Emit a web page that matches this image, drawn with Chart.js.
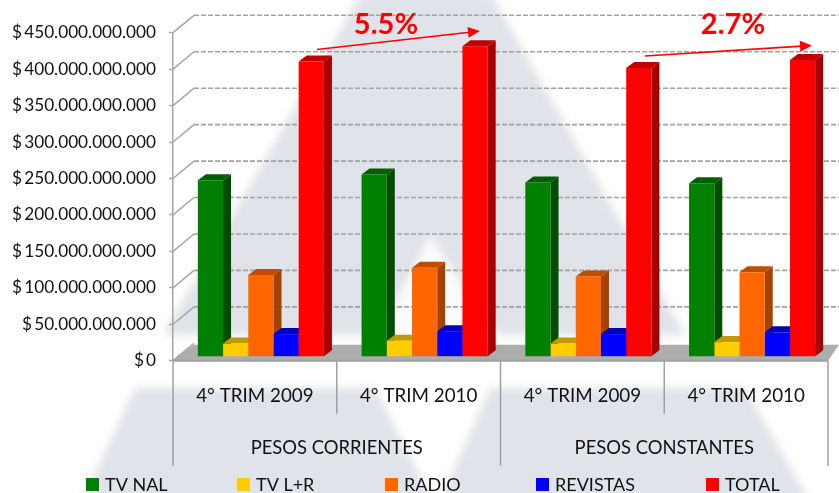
<!DOCTYPE html>
<html><head><meta charset="utf-8">
<style>html,body{margin:0;padding:0;background:#fff}canvas{display:block}</style>
<script src="https://cdn.jsdelivr.net/npm/chart.js@4/dist/chart.umd.min.js"></script>
</head><body>
<div style="width:839px;height:493px"><canvas id="c" width="839" height="493"></canvas></div>
<script>
const categories = ['4° TRIM 2009','4° TRIM 2010','4° TRIM 2009','4° TRIM 2010'];
const groupLabels = ['PESOS CORRIENTES','PESOS CONSTANTES'];
const seriesNames = ['TV NAL','TV L+R','RADIO','REVISTAS','TOTAL'];
const tvNal    = [242e9,250e9,239e9,238e9];
const tvLR     = [18e9,22e9,18e9,20e9];
const radio    = [112e9,122e9,110e9,116e9];
const revistas = [31e9,35e9,31e9,33.5e9];
const total    = [405e9,426e9,396e9,407e9];
const growthLabels = ['5.5%','2.7%'];
const front = ['#008000','#ffcc00','#ff6600','#0000ff','#ff0000'];
const topC  = ['#006000','#c09a00','#bf4d00','#0000c0','#c00000'];
const side  = ['#004d00','#a68500','#a64200','#0000a6','#a60000'];
const values = [tvNal,tvLR,radio,revistas,total];
const legendX = [86,237,385,536,706];
const FONT = 'Lato, "Open Sans", sans-serif';
const DX=21, DY=17.4, BX=6, BY=-4, SX=8, SY=6;

function poly(ctx,pts,fill){ctx.beginPath();pts.forEach((p,i)=>i?ctx.lineTo(p[0],p[1]):ctx.moveTo(p[0],p[1]));ctx.closePath();ctx.fillStyle=fill;ctx.fill();}

const scene = {
  id:'scene',
  beforeDraw(chart){
    const ctx=chart.ctx; ctx.save();
    ctx.fillStyle='#fff'; ctx.fillRect(0,0,839,493);
    ctx.filter='blur(4px)';
    const g='#e0e3e9';
    poly(ctx,[[362,-8],[490,-8],[685,335],[163,335]],g);
    poly(ctx,[[430,235],[375,340],[500,340]],'#fbfbfc');
    poly(ctx,[[135,388],[375,388],[435,505],[80,505]],g);
    poly(ctx,[[490,388],[745,388],[812,505],[438,505]],g);
    ctx.restore();
  },
  beforeDatasetsDraw(chart){
    const ctx=chart.ctx, y=chart.scales.y, a=chart.chartArea;
    ctx.save();
    const p0=y.getPixelForValue(0);
    poly(ctx,[[a.left,p0],[a.left+DX,p0-DY+1.5],[839,p0-DY+1.5],[a.right,p0]],'#adadad');
    y.ticks.forEach(t=>{
      const py=y.getPixelForValue(t.value);
      ctx.strokeStyle='#a6a6a6';ctx.lineWidth=1.5;ctx.setLineDash([]);
      ctx.beginPath();ctx.moveTo(a.left,py);ctx.lineTo(a.left+DX,py-DY);ctx.stroke();
      if(t.value>0){
        ctx.lineWidth=1.6;ctx.strokeStyle='#a3a3a3';ctx.setLineDash([5,2]);
        ctx.beginPath();ctx.moveTo(a.left+DX,py-DY);ctx.lineTo(839,py-DY);ctx.stroke();
      }
    });
    ctx.restore();
    ctx.save();
    ctx.translate(BX,BY);
    // side and top faces, left to right, below the library's front faces
    seriesNames.forEach((_,i)=>{
      chart.getDatasetMeta(i).data.forEach(b=>{
        const r=b.x+b.width/2,l=b.x-b.width/2;
        poly(ctx,[[r,b.y],[r+SX,b.y-SY],[r+SX,b.base-SY],[r,b.base]],side[i]);
        poly(ctx,[[l,b.y],[l+SX,b.y-SY],[r+SX,b.y-SY],[r,b.y]],topC[i]);
      });
    });
  },
  afterDatasetsDraw(chart){
    chart.ctx.restore();
    const ctx=chart.ctx,a=chart.chartArea;
    ctx.save();
    ctx.strokeStyle='#a0a0a0';ctx.lineWidth=1.5;
    const step=(a.right-a.left)/categories.length;
    categories.concat(['']).forEach((_,i)=>{
      const px=a.left+i*step, long=i%2===0;
      ctx.beginPath();ctx.moveTo(px,a.bottom);ctx.lineTo(px,a.bottom+(long?105:53));ctx.stroke();
    });
    ctx.lineWidth=2;ctx.beginPath();ctx.moveTo(a.left,a.bottom);ctx.lineTo(a.right,a.bottom);ctx.stroke();
    ctx.fillStyle='#111';ctx.font='18.4px '+FONT;ctx.textAlign='center';ctx.textBaseline='middle';
    groupLabels.forEach((t,i)=>ctx.fillText(t,a.left+step*(2*i+1),448));
    // legend
    ctx.font='18px '+FONT;ctx.textAlign='left';
    seriesNames.forEach((n,i)=>{
      ctx.fillStyle=front[i];ctx.fillRect(legendX[i],478,13,13);
      ctx.fillStyle='#111';ctx.fillText(n,legendX[i]+19,485);
    });
    // growth annotations
    ctx.textAlign='center';
    ctx.fillStyle='#ff0000';ctx.font='bold 29px '+FONT;
    ctx.fillText(growthLabels[0],386,25);
    ctx.fillText(growthLabels[1],733,25);
    [[317,49.5,480,31],[645,56,812,45.5]].forEach(l=>{
      const ang=Math.atan2(l[3]-l[1],l[2]-l[0]);
      ctx.strokeStyle='#ff0000';ctx.lineWidth=1.6;
      ctx.beginPath();ctx.moveTo(l[0],l[1]);ctx.lineTo(l[2]-6*Math.cos(ang),l[3]-6*Math.sin(ang));ctx.stroke();
      ctx.translate(l[2],l[3]);ctx.rotate(ang);
      poly(ctx,[[0,0],[-12,-5.5],[-12,5.5]],'#ff0000');
      ctx.rotate(-ang);ctx.translate(-l[2],-l[3]);
    });
    ctx.restore();
  }
};

new Chart(document.getElementById('c'),{
  type:'bar',
  data:{labels:categories,datasets:seriesNames.map((n,i)=>({
    label:n,data:values[i],backgroundColor:front[i],clip:false,
    categoryPercentage:0.77,barPercentage:1,borderWidth:0
  }))},
  plugins:[scene],
  options:{
    responsive:false,animation:false,
    layout:{padding:{top:32.7,right:11,left:0,bottom:27.3}},
    plugins:{tooltip:{enabled:false},title:{display:false},legend:{display:false}},
    scales:{
      x:{grid:{display:false},border:{display:false},
         ticks:{color:'#111',font:{family:FONT,size:18.8},padding:16,maxRotation:0},
         afterFit(s){s.height=105;}},
      y:{min:0,max:450e9,grid:{drawOnChartArea:false,tickLength:4,color:'#a6a6a6',tickWidth:1.5},
         border:{color:'#a6a6a6',width:1.5},
         ticks:{stepSize:50e9,color:'#111',font:{family:FONT,size:17.2},padding:13,autoSkip:false,
           callback:v=>'$\u2009'+Math.round(v).toString().replace(/\B(?=(\d{3})+(?!\d))/g,'.')},
         afterFit(s){s.width=173;}}
    }
  }
});
</script>
</body></html>
